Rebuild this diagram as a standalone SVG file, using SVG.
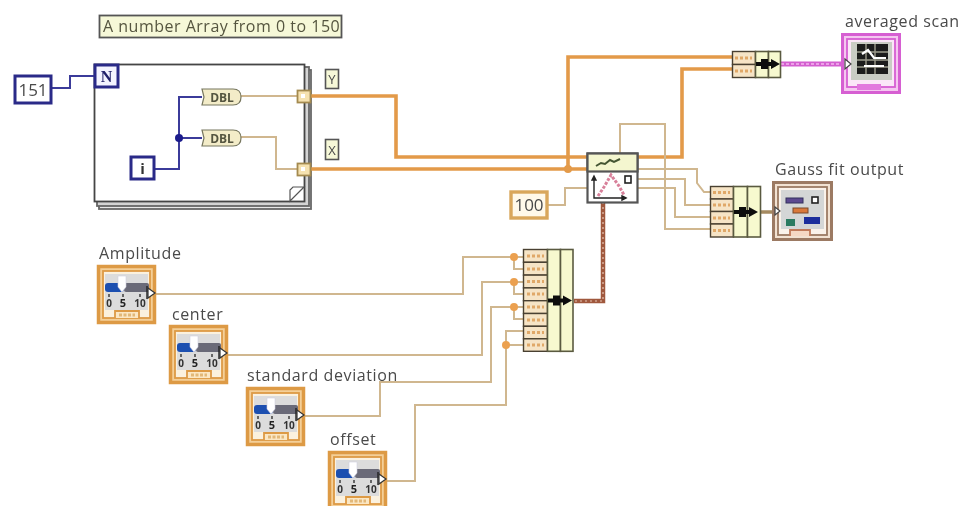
<svg xmlns="http://www.w3.org/2000/svg" xmlns:xlink="http://www.w3.org/1999/xlink" width="962" height="506" viewBox="0 0 962 506">
<style>
text{font-family:"Open Sans","Noto Sans","Liberation Sans",sans-serif;fill:#4a4a4a}
.lbl{font-size:16px;letter-spacing:.6px}
.wd{fill:none;stroke:#d0b78f;stroke-width:2}
.wt{fill:none;stroke:#e39a4a;stroke-width:3.600}
.wb{fill:none;stroke:#3a3a9a;stroke-width:2}
.cell{fill:#f6e4c6;stroke:#4a4030;stroke-width:1.400}
.col{fill:#f7f9cf;stroke:#5a5a40;stroke-width:1.600}
.bc{fill:#fff;stroke:#2a2a88;stroke-width:3}
.oc{fill:#fff9ea;stroke:#d9a75c;stroke-width:3.400}
.dbl{font-size:12px;font-weight:700;fill:#555540;text-anchor:middle}
.mk{fill:none;stroke:#e0a868;stroke-width:3;stroke-dasharray:3 2}
</style>
<defs>
<filter id="soft" x="-2%" y="-2%" width="104%" height="104%"><feGaussianBlur stdDeviation="0.65"/></filter>
<g id="slider">
<rect x="1.500" y="1.500" width="56" height="56" fill="#f4cf98" stroke="#dd9a45" stroke-width="3.500"/>
<rect x="6" y="6" width="47" height="47" fill="#fbf1de" stroke="#dd9a45" stroke-width="1.800"/>
<rect x="8" y="9" width="43" height="36" fill="#dcdcdc"/>
<rect x="8" y="18" width="19" height="9" rx="3" fill="#1f4fb0"/>
<rect x="27" y="18" width="25" height="9" rx="2" fill="#6a6a78"/>
<path d="M21 11h8v11l-4 5l-4-5z" fill="#fff" stroke="#d0d0e0" stroke-width=".6"/>
<path d="M12 29v3M26 29v3M43 29v3" stroke="#333" stroke-width="1.400"/>
<text x="12" y="42" text-anchor="middle" font-size="10" font-weight="700" style="fill:#333">0</text>
<text x="26" y="42" text-anchor="middle" font-size="11" font-weight="700" style="fill:#222">5</text>
<text x="43" y="42" text-anchor="middle" font-size="10" font-weight="700" style="fill:#333">10</text>
<path d="M50 21v13" stroke="#222" stroke-width="1.400"/>
<path d="M51 23l7 5l-7 5z" fill="#fff" stroke="#333" stroke-width="1.200"/>
<path d="M18 53v-7h24v7" fill="#fbe7c4" stroke="#dd9a45" stroke-width="1.800"/>
<path d="M22 50h16" stroke="#e2b878" stroke-width="3" stroke-dasharray="3 1.500"/>
</g>
<path id="arrow" d="M0-2h5v-3h7v3h3v-3l9 5l-9 5v-3h-3v3h-7v-3h-5z" fill="#111"/>
<path id="mark" class="mk" d="M3 0h17"/>
</defs>
<rect width="962" height="506" fill="#fff"/>
<g filter="url(#soft)">

<g id="for-loop">
<rect x="99" y="70" width="212" height="139" fill="#e8e8e8" stroke="#666" stroke-width="1.800"/>
<rect x="97" y="67" width="212" height="139" fill="#d4d4d4" stroke="#666" stroke-width="1.800"/>
<rect x="94.500" y="64.500" width="210" height="137" fill="#fff" stroke="#444" stroke-width="1.800"/>
<path d="M290 201v-11l3-3h11l-14 14z" fill="#fff" stroke="#555" stroke-width="1.200"/>
</g>

<g id="connectors">
<path class="wb" d="M51 88H70V76H94"/>
<path class="wb" d="M154 169H179V97H202M179 138H202"/>
<circle cx="179" cy="138" r="4" fill="#1c1c8c"/>
<path class="wd" d="M241 96H297M241 137H276V169H297"/>
<path class="wt" d="M311 96H396V157H682V69H733"/>
<path class="wt" d="M311 169H587M568 169V57H733"/>
<circle cx="568" cy="169" r="4" fill="#e39a4a"/>
<path d="M781 64H845" fill="none" stroke="#d45fd0" stroke-width="5"/>
<path d="M781 64H845" fill="none" stroke="#f4b8f0" stroke-width="1.500" stroke-dasharray="3 2"/>
<path class="wd" d="M620 153V124H665V229H710"/>
<path class="wd" d="M637 169H697V183L704 192H710"/>
<path class="wd" d="M637 179H685V205H710"/>
<path class="wd" d="M637 188H675V217H710"/>
<path class="wd" d="M547 205H565V188H587"/>
<path d="M603 202V301H574" fill="none" stroke="#a0583c" stroke-width="4.500"/>
<path d="M603 202V301H574" fill="none" stroke="#e6c4b4" stroke-width="1.200" stroke-dasharray="2 3"/>
<path d="M760 212H776" fill="none" stroke="#a58a60" stroke-width="3.500"/>
<path class="wd" d="M155 294H463V257H523M514 257V269H523"/>
<path class="wd" d="M228 355H482V282H523M514 282V294H523"/>
<path class="wd" d="M305 416H380V382H491V307H523M514 307V319H523"/>
<path class="wd" d="M386 481H415V405H506V331H523M506 345H523"/>
<circle cx="514" cy="257" r="4" fill="#eba050"/>
<circle cx="514" cy="282" r="4" fill="#eba050"/>
<circle cx="514" cy="307" r="4" fill="#eba050"/>
<circle cx="506" cy="345" r="4" fill="#eba050"/>
</g>

<g id="comment">
<rect x="99.500" y="15.500" width="242" height="22" fill="#f6f8d8" stroke="#555" stroke-width="1.800"/>
<text x="103" y="32" font-size="16" letter-spacing=".5" style="fill:#55553f">A number Array from 0 to 150</text>
</g>

<g id="const-151">
<rect class="bc" x="15" y="76" width="36" height="27"/>
<text x="33" y="96" font-size="17" text-anchor="middle">151</text>
</g>

<g id="loop-N">
<rect class="bc" x="95" y="65" width="23" height="22" style="fill:#f4f4ff"/>
<text x="106.500" y="82" font-size="16" font-weight="700" text-anchor="middle" style="fill:#22226a;font-family:'Liberation Serif',serif">N</text>
</g>

<g id="dbl-1">
<path d="M202 89H233Q241 89 241 97Q241 105 233 105H202L204 97z" fill="#f3ecc8" stroke="#77775f" stroke-width="1.200"/>
<text class="dbl" x="222" y="101.500">DBL</text>
</g>
<g id="dbl-2">
<path d="M202 130H233Q241 130 241 138Q241 146 233 146H202L204 138z" fill="#f3ecc8" stroke="#77775f" stroke-width="1.200"/>
<text class="dbl" x="222" y="142.500">DBL</text>
</g>

<g id="loop-i">
<rect class="bc" x="131" y="157" width="23" height="22"/>
<text x="142.500" y="174" font-size="15" font-weight="700" text-anchor="middle" style="fill:#333">i</text>
</g>

<g id="tunnel-y"><rect x="297.500" y="90.500" width="13" height="12" fill="#f6e2b0" stroke="#a48a50" stroke-width="1.800"/><rect x="301" y="94" width="4" height="4" fill="#fff"/></g>
<g id="tunnel-x"><rect x="297.500" y="163.500" width="13" height="12" fill="#f6e2b0" stroke="#a48a50" stroke-width="1.800"/><rect x="301" y="167" width="4" height="4" fill="#fff"/></g>

<g id="label-y"><rect x="325.500" y="69.500" width="13" height="19" fill="#f6f8d8" stroke="#555" stroke-width="1.600"/><text x="332" y="84" font-size="13" text-anchor="middle">Y</text></g>
<g id="label-x"><rect x="325.500" y="139.500" width="13" height="20" fill="#f6f8d8" stroke="#555" stroke-width="1.600"/><text x="332" y="155" font-size="13" text-anchor="middle">X</text></g>

<g id="bundle-top">
<rect class="cell" x="732.500" y="51.500" width="23" height="13"/>
<rect class="cell" x="732.500" y="64.500" width="23" height="13"/>
<use xlink:href="#mark" href="#mark" x="732" y="58"/><use xlink:href="#mark" href="#mark" x="732" y="71"/>
<rect class="col" x="755.500" y="51.500" width="13" height="26"/>
<rect class="col" x="768.500" y="51.500" width="12" height="26"/>
<use xlink:href="#arrow" href="#arrow" x="756" y="64"/>
</g>

<g id="averaged-scan">
<rect x="842.500" y="34.500" width="57" height="58" fill="#f5c7f0" stroke="#d65ed2" stroke-width="3"/>
<rect x="847" y="39" width="48" height="48" fill="#fbe6f8" stroke="#d65ed2" stroke-width="1.800"/>
<rect x="851" y="42" width="41" height="38" fill="#c9ccc4"/>
<rect x="857" y="44" width="31" height="30" fill="#1e1e1e"/>
<path d="M857 52h31M857 60h31M857 67h31M866 44v30M875 44v30" stroke="#9c9a8c" stroke-width="1.400"/>
<path d="M862 54l6-4l6 8h12M864 66h20" fill="none" stroke="#fff" stroke-width="2.200"/>
<path d="M857 84h24v6h-24z" fill="#e278de"/>
<path d="M845 59l6 5l-6 5z" fill="#fff" stroke="#444" stroke-width="1.200"/>
</g>

<g id="fit-vi">
<rect x="587.500" y="153.500" width="50" height="49" fill="#fff" stroke="#555" stroke-width="2.200"/>
<rect x="587.500" y="153.500" width="50" height="18" fill="#f4f6cf" stroke="#555" stroke-width="2.200"/>
<path d="M596 166l5-3l4 1l5-4l4 2l6-3" fill="none" stroke="#445533" stroke-width="2"/>
<path d="M594 176v22h32M594 176l-2 4h4zM626 198l-4-2v4z" fill="none" stroke="#222" stroke-width="1.400"/>
<path d="M598 196l6-9l7-12l8 11l5 9" fill="none" stroke="#d8809a" stroke-width="3" stroke-dasharray="3 1.500"/>
<rect x="625" y="176" width="6" height="7" fill="#fff" stroke="#222" stroke-width="1.600"/>
</g>

<g id="const-100">
<rect class="oc" x="511" y="192" width="36" height="26"/>
<text x="529" y="211" font-size="17" text-anchor="middle">100</text>
</g>

<g id="bundle-output">
<rect class="cell" x="710.500" y="186.500" width="23" height="12.500"/>
<rect class="cell" x="710.500" y="199" width="23" height="12.500"/>
<rect class="cell" x="710.500" y="211.500" width="23" height="12.500"/>
<rect class="cell" x="710.500" y="224" width="23" height="13"/>
<use xlink:href="#mark" href="#mark" x="710" y="192.500"/><use xlink:href="#mark" href="#mark" x="710" y="205"/><use xlink:href="#mark" href="#mark" x="710" y="218"/><use xlink:href="#mark" href="#mark" x="710" y="230.500"/>
<rect class="col" x="733.500" y="186.500" width="14" height="50.500"/>
<rect class="col" x="747.500" y="186.500" width="13" height="50.500"/>
<use xlink:href="#arrow" href="#arrow" x="734" y="212"/>
</g>

<g id="gauss-output">
<rect x="773.500" y="182.500" width="58" height="57" fill="#f2e2d2" stroke="#9c7a63" stroke-width="3"/>
<rect x="778" y="187" width="49" height="48" fill="#faf2ea" stroke="#9c7a63" stroke-width="1.800"/>
<rect x="781" y="190" width="43" height="39" fill="#d4d6d6"/>
<rect x="786" y="198" width="17" height="5" fill="#5c4a90" stroke="#33305c" stroke-width="1"/>
<rect x="812" y="197" width="6" height="6" fill="#fff" stroke="#222" stroke-width="1.600"/>
<rect x="793" y="208" width="15" height="5" fill="#d9793a" stroke="#7a4a2a" stroke-width="1"/>
<rect x="786" y="219" width="9" height="7" fill="#2c7a60"/>
<rect x="804" y="217" width="16" height="7" fill="#1e2e9c"/>
<path d="M775 207l5 4l-5 4z" fill="#fff" stroke="#444" stroke-width="1.200"/>
<path d="M790 236v-6h20v6" fill="#f5d8c4" stroke="#c07a5a" stroke-width="1.800"/>
</g>

<g id="bundle-params">
<rect class="cell" x="523.500" y="249.500" width="24" height="12.800"/>
<rect class="cell" x="523.500" y="262.300" width="24" height="12.800"/>
<rect class="cell" x="523.500" y="275.100" width="24" height="12.800"/>
<rect class="cell" x="523.500" y="287.900" width="24" height="12.800"/>
<rect class="cell" x="523.500" y="300.700" width="24" height="12.800"/>
<rect class="cell" x="523.500" y="313.500" width="24" height="12.800"/>
<rect class="cell" x="523.500" y="326.300" width="24" height="12.500"/>
<rect class="cell" x="523.500" y="338.800" width="24" height="12.500"/>
<use xlink:href="#mark" href="#mark" x="524" y="256"/><use xlink:href="#mark" href="#mark" x="524" y="269"/><use xlink:href="#mark" href="#mark" x="524" y="281.500"/><use xlink:href="#mark" href="#mark" x="524" y="294"/><use xlink:href="#mark" href="#mark" x="524" y="307"/><use xlink:href="#mark" href="#mark" x="524" y="320"/><use xlink:href="#mark" href="#mark" x="524" y="332.500"/><use xlink:href="#mark" href="#mark" x="524" y="345"/>
<rect class="col" x="547.500" y="249.500" width="13" height="101.800"/>
<rect class="col" x="560.500" y="249.500" width="12.500" height="101.800"/>
<use xlink:href="#arrow" href="#arrow" x="548" y="300.500"/>
</g>

<g id="amplitude"><use xlink:href="#slider" href="#slider" x="97" y="265"/><text class="lbl" x="99" y="259">Amplitude</text></g>
<g id="center"><use xlink:href="#slider" href="#slider" x="169" y="325"/><text class="lbl" x="172" y="320">center</text></g>
<g id="standard-deviation"><use xlink:href="#slider" href="#slider" x="246" y="387"/><text class="lbl" x="247" y="381">standard deviation</text></g>
<g id="offset"><use xlink:href="#slider" href="#slider" x="328" y="451"/><text class="lbl" x="330" y="445">offset</text></g>

<text class="lbl" x="845" y="27">averaged scan</text>
<text class="lbl" x="775" y="175">Gauss fit output</text>
</g>
</svg>
